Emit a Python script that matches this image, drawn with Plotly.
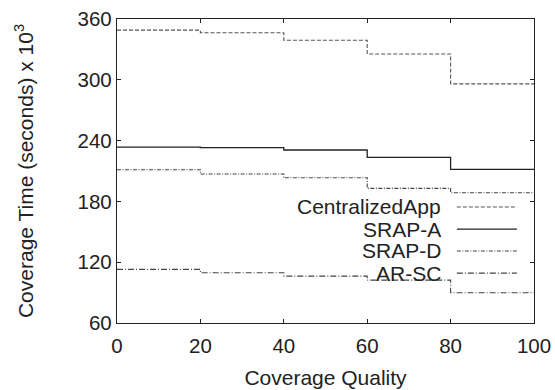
import plotly.graph_objects as go

quality = [0, 20, 40, 60, 80, 100]
series_names = ["CentralizedApp", "SRAP-A", "SRAP-D", "AR-SC"]
centralized = [349, 346.5, 339, 325.5, 296]
srap_a = [233.6, 233, 230.7, 223.5, 211.6]
srap_d = [211.3, 207, 203.3, 192.9, 188.5]
ar_sc = [112.9, 109.6, 106.3, 102.3, 89.8]
y_ticks = [60, 120, 180, 240, 300, 360]
x_ticks = [0, 20, 40, 60, 80, 100]

styles = {
    "CentralizedApp": dict(color="#555555", width=1.1, dash="4px,2px"),
    "SRAP-A": dict(color="#222222", width=1.3, dash="solid"),
    "SRAP-D": dict(color="#444444", width=1.1, dash="4px,1.5px,1px,1.5px"),
    "AR-SC": dict(color="#444444", width=1.1, dash="6px,2px,1px,2px"),
}
values = {"CentralizedApp": centralized, "SRAP-A": srap_a, "SRAP-D": srap_d, "AR-SC": ar_sc}

FONT = "Liberation Sans, Arial, sans-serif"
fig = go.Figure()
for name in series_names:
    v = values[name]
    fig.add_trace(go.Scatter(
        x=quality, y=v + [v[-1]], mode="lines", line_shape="hv",
        line=styles[name], name=name, showlegend=False,
    ))

# custom legend (text right-aligned, sample on right)
row_y = [0.3816, 0.309, 0.237, 0.164]
for name, yy in zip(series_names, row_y):
    fig.add_annotation(x=0.782, y=yy, xref="paper", yref="paper", text=name,
                       showarrow=False, xanchor="right", yanchor="middle",
                       font=dict(size=21, color="#222222", family=FONT))
    fig.add_shape(type="line", xref="paper", yref="paper", x0=0.815, x1=0.959,
                  y0=yy, y1=yy, line=styles[name])

axis_common = dict(showline=True, mirror="ticks", linecolor="#222222", linewidth=1.3,
                   ticks="inside", ticklen=4, tickcolor="#222222", showgrid=False,
                   zeroline=False, automargin=False,
                   tickfont=dict(size=20.5, color="#222222", family=FONT))
fig.update_xaxes(range=[0, 100], tickvals=x_ticks, ticklabelstandoff=4,
                 title=dict(text="Coverage Quality", font=dict(size=21, color="#222222", family=FONT), standoff=14),
                 **axis_common)
fig.update_yaxes(range=[60, 360], tickvals=y_ticks,
                 title=dict(text="Coverage Time (seconds) x 10<sup>3</sup>", font=dict(size=21, color="#222222", family=FONT), standoff=38),
                 **axis_common)
fig.update_layout(width=555, height=390, margin=dict(l=117, r=21, t=19, b=67),
                  paper_bgcolor="white", plot_bgcolor="white")
fig.write_html("out.html")
